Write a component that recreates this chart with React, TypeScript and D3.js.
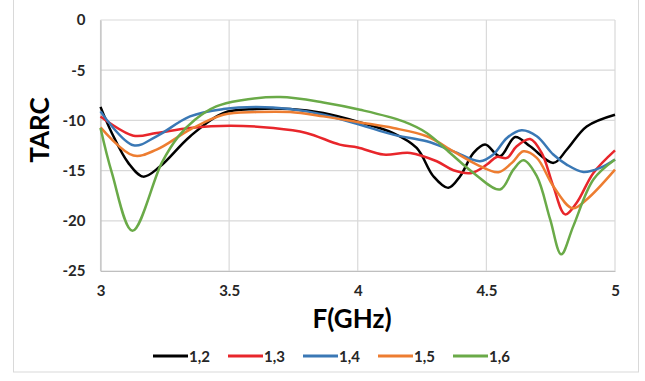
import React, { useEffect, useRef } from 'react';
import * as d3 from 'd3';

// TARC vs frequency
const freq12 = [3.0, 3.044, 3.108, 3.166, 3.231, 3.348, 3.477, 3.607, 3.737, 3.866, 4.009, 4.138, 4.229, 4.294, 4.352, 4.398, 4.45, 4.495, 4.553, 4.612, 4.67, 4.761, 4.813, 4.89, 5.0];
const tarc12 = [-8.65, -11.25, -14.23, -15.6, -14.6, -11.6, -9.27, -8.87, -8.87, -9.27, -10.2, -11.26, -12.74, -15.56, -16.72, -15.56, -13.24, -12.41, -13.57, -11.65, -12.58, -14.23, -12.9, -10.6, -9.43];

const freq13 = [3.0, 3.128, 3.218, 3.348, 3.503, 3.672, 3.8, 3.93, 4.0, 4.1, 4.204, 4.307, 4.372, 4.443, 4.502, 4.54, 4.58, 4.618, 4.67, 4.715, 4.76, 4.806, 4.851, 4.916, 5.0];
const tarc13 = [-9.6, -11.52, -11.25, -10.76, -10.53, -10.76, -11.25, -12.41, -12.7, -13.4, -13.24, -14.07, -14.96, -15.23, -14.4, -13.64, -13.74, -12.58, -11.85, -13.24, -16.55, -19.36, -18.2, -15.23, -12.98];

const freq14 = [3.0, 3.128, 3.218, 3.348, 3.477, 3.607, 3.737, 3.866, 4.009, 4.138, 4.268, 4.372, 4.475, 4.527, 4.58, 4.637, 4.696, 4.76, 4.812, 4.877, 4.942, 5.0];
const tarc14 = [-9.1, -12.48, -11.58, -9.6, -8.87, -8.67, -8.87, -9.43, -10.43, -11.42, -12.08, -13.08, -14.07, -13.4, -11.75, -10.99, -11.58, -13.4, -14.4, -15.13, -14.73, -13.9];

const freq15 = [3.0, 3.128, 3.218, 3.348, 3.477, 3.607, 3.737, 3.866, 4.009, 4.138, 4.268, 4.372, 4.463, 4.547, 4.599, 4.644, 4.696, 4.76, 4.835, 4.89, 5.0];
const tarc15 = [-10.7, -13.5, -12.91, -10.92, -9.43, -9.17, -9.17, -9.6, -10.2, -10.76, -11.58, -13.08, -14.4, -15.16, -14.23, -13.08, -13.74, -16.55, -18.75, -17.87, -14.9];

const freq16 = [3.0, 3.044, 3.124, 3.238, 3.303, 3.367, 3.45, 3.542, 3.698, 3.866, 4.009, 4.177, 4.268, 4.359, 4.45, 4.553, 4.605, 4.644, 4.696, 4.748, 4.791, 4.838, 4.916, 5.0];
const tarc16 = [-10.76, -15.2, -21.0, -14.23, -11.59, -9.93, -8.6, -8.01, -7.68, -8.21, -8.94, -10.1, -11.25, -13.24, -15.23, -16.88, -14.9, -13.97, -15.56, -19.86, -23.34, -20.53, -15.89, -13.9];

const seriesNames = ['1,2', '1,3', '1,4', '1,5', '1,6'];
const seriesColors = ['#000000', '#e8262b', '#3a78b5', '#ed7d31', '#6aaa48'];
const xTicks = [3, 3.5, 4, 4.5, 5];
const yTicks = [0, -5, -10, -15, -20, -25];

const App: React.FC = () => {
  const svgRef = useRef<SVGSVGElement>(null);
  const width = 645;
  const height = 381;

  useEffect(() => {
    if (!svgRef.current) return;
    const svg = d3.select(svgRef.current);
    svg.selectAll('*').remove();

    const font = 'Lato, "Open Sans", sans-serif';
    const margin = { top: 20, right: 30, bottom: 110, left: 100.5 };
    const innerWidth = width - margin.left - margin.right;
    const innerHeight = height - margin.top - margin.bottom;

    // outer chart frame
    svg.append('rect')
      .attr('x', 13.5).attr('y', -5)
      .attr('width', 625).attr('height', 377)
      .attr('fill', '#fff')
      .attr('stroke', '#d9d9d9');

    const xScale = d3.scaleLinear().domain([3, 5]).range([0, innerWidth]);
    const yScale = d3.scaleLinear().domain([-25, 0]).range([innerHeight, 0]);

    const g = svg.append('g')
      .attr('transform', `translate(${margin.left},${margin.top})`);

    // gridlines
    g.append('g')
      .selectAll('line')
      .data(yTicks)
      .enter().append('line')
      .attr('x1', 0).attr('x2', innerWidth)
      .attr('y1', d => yScale(d)).attr('y2', d => yScale(d))
      .attr('stroke', '#d9d9d9').attr('stroke-width', 1.2);

    g.append('g')
      .selectAll('line')
      .data(xTicks)
      .enter().append('line')
      .attr('x1', d => xScale(d)).attr('x2', d => xScale(d))
      .attr('y1', 0).attr('y2', innerHeight)
      .attr('stroke', '#d9d9d9').attr('stroke-width', 1.2);

    // axes (plain hyphen minus, like the original)
    const yAxis = g.append('g')
      .call(d3.axisLeft(yScale).tickValues(yTicks).tickSize(0).tickPadding(15).tickFormat(d => String(d)));
    yAxis.select('.domain').attr('stroke', '#bfbfbf').attr('stroke-width', 1.2);
    yAxis.selectAll('text')
      .style('font-family', font).style('font-size', '15px').style('font-weight', 'bold').attr('fill', '#262626');

    const xAxis = g.append('g')
      .attr('transform', `translate(0,${innerHeight})`)
      .call(d3.axisBottom(xScale).tickValues(xTicks).tickSize(0).tickPadding(14).tickFormat(d => String(d)));
    xAxis.select('.domain').attr('stroke', '#bfbfbf').attr('stroke-width', 1.2);
    xAxis.selectAll('text')
      .style('font-family', font).style('font-size', '15px').style('font-weight', 'bold').attr('fill', '#262626');

    // axis titles
    svg.append('text')
      .attr('x', 352).attr('y', 328)
      .attr('text-anchor', 'middle')
      .style('font-family', font).style('font-size', '26px').style('font-weight', 'bold')
      .attr('fill', '#000')
      .text('F(GHz)');

    svg.append('text')
      .attr('transform', 'translate(49,130) rotate(-90)')
      .attr('text-anchor', 'middle')
      .style('font-family', font).style('font-size', '26px').style('font-weight', 'bold')
      .attr('fill', '#000')
      .text('TARC');

    // curves
    const freqs = [freq12, freq13, freq14, freq15, freq16];
    const tarcs = [tarc12, tarc13, tarc14, tarc15, tarc16];
    const line = d3.line<[number, number]>()
      .x(d => xScale(d[0]))
      .y(d => yScale(d[1]))
      .curve(d3.curveCatmullRom.alpha(0.5));

    seriesNames.forEach((name, i) => {
      const pts = freqs[i].map((f, j) => [f, tarcs[i][j]] as [number, number]);
      g.append('path')
        .datum(pts)
        .attr('fill', 'none')
        .attr('stroke', seriesColors[i])
        .attr('stroke-width', 2.5)
        .attr('stroke-linejoin', 'round')
        .attr('d', line);
    });

    // legend
    const legend = svg.append('g').attr('transform', 'translate(153,356)');
    seriesNames.forEach((name, i) => {
      const item = legend.append('g').attr('transform', `translate(${i * 75},0)`);
      item.append('line')
        .attr('x1', 0).attr('x2', 35)
        .attr('y1', 0).attr('y2', 0)
        .attr('stroke', seriesColors[i]).attr('stroke-width', 3);
      item.append('text')
        .attr('x', 36).attr('y', 5.5)
        .style('font-family', font).style('font-size', '15px').style('font-weight', 'bold')
        .attr('fill', '#262626')
        .text(name);
    });
  }, []);

  return (
    <svg
      ref={svgRef}
      width={width}
      height={height}
      style={{ position: 'absolute', left: 0, top: 0, background: '#fff' }}
    />
  );
};

export default App;
